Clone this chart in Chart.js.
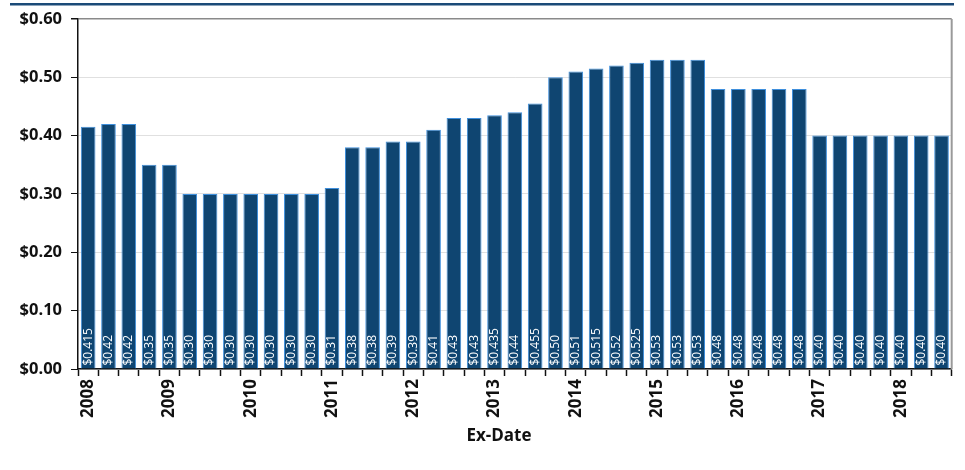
<!DOCTYPE html>
<html>
<head>
<meta charset="utf-8">
<script src="https://cdn.jsdelivr.net/npm/chart.js@4"></script>
<style>
  html, body { margin: 0; padding: 0; background: #fff; }
  #dividendChart { display: block; }
</style>
</head>
<body>
<canvas id="dividendChart" width="965" height="470"></canvas>
<script>
// Dividendos trimestrales por fecha ex-dividendo
const categories = [
    '2008 Q1', '2008 Q2', '2008 Q3', '2008 Q4',
    '2009 Q1', '2009 Q2', '2009 Q3', '2009 Q4',
    '2010 Q1', '2010 Q2', '2010 Q3', '2010 Q4',
    '2011 Q1', '2011 Q2', '2011 Q3', '2011 Q4',
    '2012 Q1', '2012 Q2', '2012 Q3', '2012 Q4',
    '2013 Q1', '2013 Q2', '2013 Q3', '2013 Q4',
    '2014 Q1', '2014 Q2', '2014 Q3', '2014 Q4',
    '2015 Q1', '2015 Q2', '2015 Q3', '2015 Q4',
    '2016 Q1', '2016 Q2', '2016 Q3', '2016 Q4',
    '2017 Q1', '2017 Q2', '2017 Q3', '2017 Q4',
    '2018 Q1', '2018 Q2', '2018 Q3'
];
const dividends = [
    0.415, 0.42, 0.42, 0.35,
    0.35, 0.30, 0.30, 0.30,
    0.30, 0.30, 0.30, 0.30,
    0.31, 0.38, 0.38, 0.39,
    0.39, 0.41, 0.43, 0.43,
    0.435, 0.44, 0.455, 0.50,
    0.51, 0.515, 0.52, 0.525,
    0.53, 0.53, 0.53, 0.48,
    0.48, 0.48, 0.48, 0.48,
    0.40, 0.40, 0.40, 0.40,
    0.40, 0.40, 0.40
];
const yearTicks = ['2008', '2009', '2010', '2011', '2012', '2013',
    '2014', '2015', '2016', '2017', '2018'];
const yTicks = [0, 0.1, 0.2, 0.3, 0.4, 0.5, 0.6];

const FONT = '"Open Sans", "DejaVu Sans", sans-serif';

// Formato $0.42 / $0.415
function money(v) {
    const s3 = v.toFixed(3);
    return '$' + (s3.endsWith('0') ? v.toFixed(2) : s3);
}

// Línea superior, bordes del área y título del eje X
const decorPlugin = {
    id: 'decor',
    beforeDraw(chart) {
        const c = chart.ctx;
        c.save();
        c.fillStyle = '#1b4a78';
        c.fillRect(10, 3, 944, 2.5);
        c.restore();
    },
    afterDraw(chart) {
        const c = chart.ctx;
        const a = chart.chartArea;
        c.save();
        c.strokeStyle = '#9a9a9a';
        c.lineWidth = 2;
        c.beginPath();
        c.moveTo(a.right, a.top);
        c.lineTo(a.right, a.bottom);
        c.stroke();
        c.fillStyle = '#111';
        c.font = 'bold 17px ' + FONT;
        c.textAlign = 'center';
        c.textBaseline = 'middle';
        c.fillText('Ex-Date', 499, 436);
        c.restore();
    }
};

// Etiquetas verticales dentro de cada barra
const barLabelPlugin = {
    id: 'barLabels',
    afterDatasetsDraw(chart) {
        const c = chart.ctx;
        const meta = chart.getDatasetMeta(0);
        c.save();
        c.fillStyle = '#ffffff';
        c.font = '12px ' + FONT;
        c.textAlign = 'left';
        c.textBaseline = 'middle';
        meta.data.forEach((bar, i) => {
            c.save();
            c.translate(bar.x, bar.base - 3);
            c.rotate(-Math.PI / 2);
            c.fillText(money(dividends[i]), 0, 0);
            c.restore();
        });
        c.restore();
    }
};

const ctx = document.getElementById('dividendChart');
new Chart(ctx, {
    type: 'bar',
    data: {
        labels: categories,
        datasets: [{
            data: dividends,
            backgroundColor: '#0f4571',
            borderColor: '#3f8fdc',
            borderWidth: 1,
            barPercentage: 1,
            categoryPercentage: 0.72
        }]
    },
    options: {
        responsive: false,
        animation: false,
        layout: { padding: { top: 17, right: 6, left: 2, bottom: 0 } },
        plugins: {
            legend: { display: false },
            tooltip: { enabled: false }
        },
        scales: {
            x: {
                afterFit(scale) { scale.height = 101; },
                grid: {
                    drawOnChartArea: false,
                    tickLength: 7,
                    tickColor: '#111',
                    tickWidth: 1.5
                },
                border: { color: '#111', width: 1.5 },
                ticks: {
                    autoSkip: false,
                    minRotation: 90,
                    maxRotation: 90,
                    padding: 3,
                    color: '#111',
                    font: { family: FONT, size: 17, weight: 'bold' },
                    callback: (v, i) => (i % 4 === 0 ? yearTicks[i / 4] : '')
                }
            },
            y: {
                min: 0,
                max: 0.6,
                afterFit(scale) { scale.width = 76; },
                afterBuildTicks(scale) { scale.ticks = yTicks.map(v => ({ value: v })); },
                grid: {
                    color: (c) => (c.tick && c.tick.value === 0.6 ? '#8a8a8a' : '#e0e0e0'),
                    lineWidth: (c) => (c.tick && c.tick.value === 0.6 ? 1.5 : 1),
                    tickColor: '#111',
                    tickLength: 7
                },
                border: { color: '#111', width: 1.5 },
                ticks: {
                    padding: 9,
                    color: '#111',
                    font: { family: FONT, size: 16.5, weight: 'bold' },
                    callback: (v) => '$' + Number(v).toFixed(2)
                }
            }
        }
    },
    plugins: [decorPlugin, barLabelPlugin]
});
</script>
</body>
</html>
